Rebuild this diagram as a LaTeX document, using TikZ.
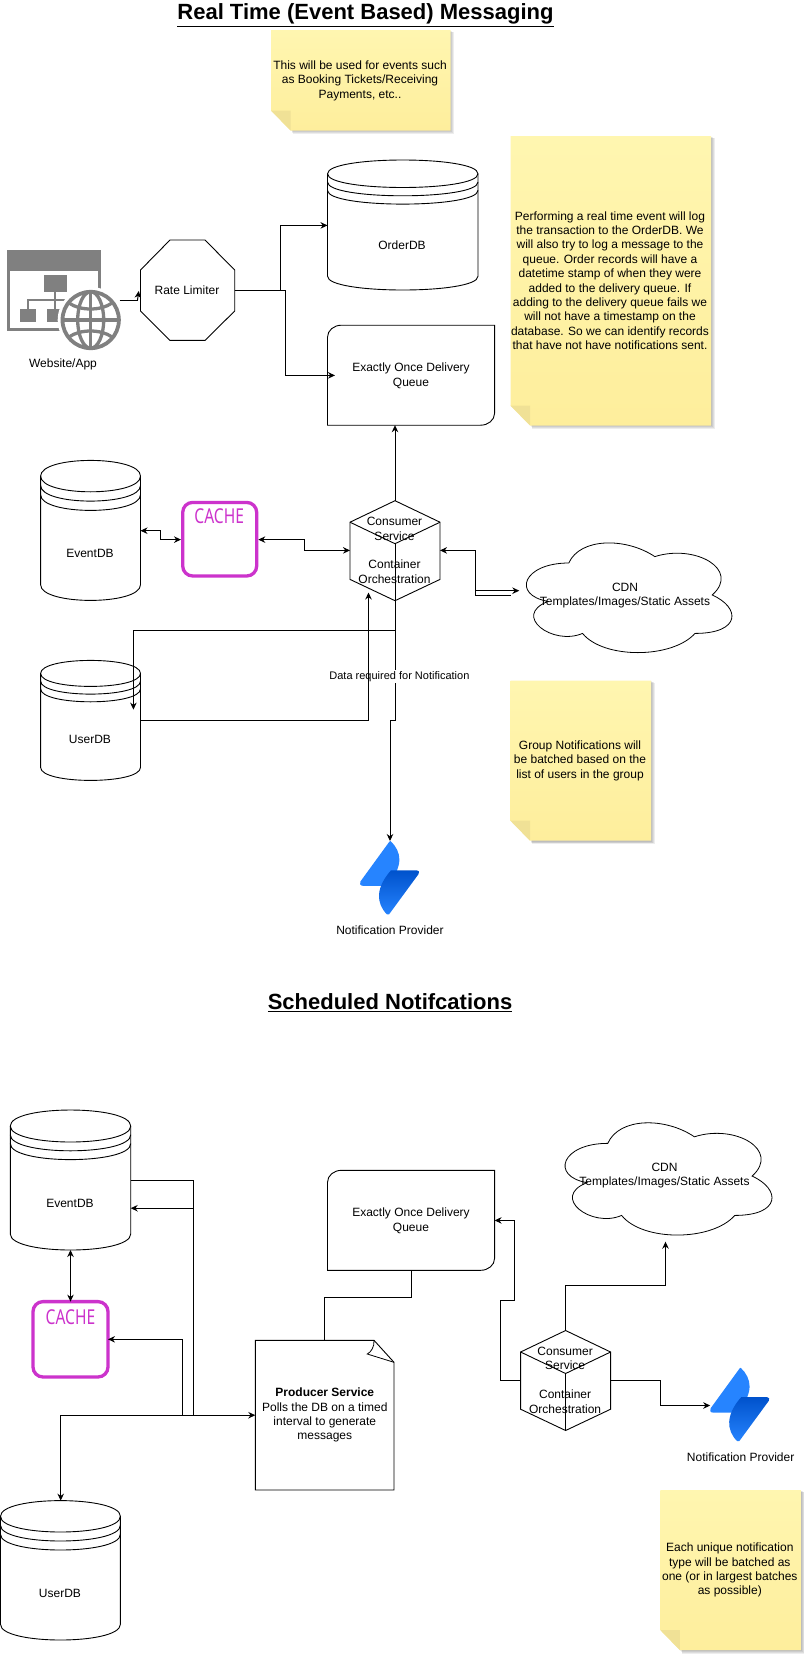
\documentclass[tikz,border=0pt]{standalone}
\usepackage{graphicx}
\usepackage{fontspec}
\setmainfont{Liberation Sans}
\newfontfamily\cachefont{Noto Sans}
\usetikzlibrary{arrows.meta,fit,calc}
\definecolor{magentaline}{HTML}{CC33CC}
\definecolor{notetop}{HTML}{FFF6B0}
\definecolor{notebot}{HTML}{FEEE9C}
\definecolor{notefold}{HTML}{F0E196}
\definecolor{icongrey}{HTML}{808080}
\definecolor{jiralight}{HTML}{2684FF}
\definecolor{jiradark}{HTML}{0052CC}
\tikzset{
  shp/.style={draw=black,line width=.9pt,line join=miter},
  conn/.style={draw=black,line width=1pt,-{Stealth[length=7pt,width=6.5pt]}},
  conn2/.style={draw=black,line width=1pt,{Stealth[length=7pt,width=6.5pt]}-{Stealth[length=7pt,width=6.5pt]}},
  wire/.style={draw=black,line width=1pt},
  txt/.style={font=\fontsize{12}{14.4}\selectfont,align=center,inner sep=0pt,text=black,yshift=-.6pt},
  titletxt/.style={font=\bfseries\fontsize{22}{24}\selectfont,inner sep=0pt,text=black},
  smalltxt/.style={font=\fontsize{11}{13}\selectfont,inner sep=1pt,fill=white,text=black,yshift=-.6pt},
  cachetxt/.style={font=\cachefont\fontsize{20.5}{24}\selectfont,text=magentaline,inner sep=0pt},
  box/.style={inner sep=0pt,outer sep=0pt},
}
% name x1 y1 x2 y2 d spacing
\newcommand{\dbshape}[7]{%
  \path[shp,fill=white] (#2,#3+#6) .. controls (#2,#3-#6/3) and (#4,#3-#6/3) .. (#4,#3+#6)
    -- (#4,#5-#6) .. controls (#4,#5+#6/3) and (#2,#5+#6/3) .. (#2,#5-#6) -- cycle;
  \path[shp] (#2,#3+#6) .. controls (#2,#3+#6*2.333) and (#4,#3+#6*2.333) .. (#4,#3+#6);
  \path[shp] (#2,#3+#6+#7) .. controls (#2,#3+#7+#6*2.333) and (#4,#3+#7+#6*2.333) .. (#4,#3+#6+#7);
  \path[shp] (#2,#3+#6+2*#7) .. controls (#2,#3+2*#7+#6*2.333) and (#4,#3+2*#7+#6*2.333) .. (#4,#3+#6+2*#7);
  \node[box,fit={(#2,#3)(#4,#5)}] (#1) {};
}
% name x1 y1 x2 y2
\newcommand{\notepaper}[5]{%
  \foreach \off in {1,2,3,4}{
    \fill[black,opacity=.07] (#2+19.5+\off*.6,#3+\off*.6) -- (#4+\off*.9,#3+\off*.6) -- (#4+\off*.9,#5+\off*.9) -- (#2+19.5+\off*.6,#5+\off*.9) -- cycle;}
  \path[top color=notetop,bottom color=notebot] (#2,#3) -- (#4,#3) -- (#4,#5) -- (#2+19.5,#5) -- (#2,#5-20) -- cycle;
  \fill[notefold] (#2,#5-20) -- (#2+19.5,#5-20) -- (#2+19.5,#5) -- cycle;
  \node[box,fit={(#2,#3)(#4,#5)}] (#1) {};
}
% name, y offset
\newcommand{\queueshape}[2]{%
  \begin{scope}[shift={(0,#2)}]
    \path[shp,fill=white] (341.5,0) -- (494.6,0) -- (494.6,88) .. controls (494.6,95) and (488,100) .. (480.6,100)
      -- (327.5,100) -- (327.5,12) .. controls (327.5,5) and (334,0) .. (341.5,0) -- cycle;
    \node[box,fit={(327.5,0)(494.6,100)}] (#1) {};
    \node[txt] (#1-t) at (411,50) {Exactly Once Delivery\\Queue};
  \end{scope}
}
% name, x (centre), y (top)
\newcommand{\hexshape}[3]{%
  \begin{scope}[shift={(#2,#3)}]
    \path[shp,fill=white] (0,0) -- (45,21.5) -- (45,78.7) -- (0,100) -- (-45,78.7) -- (-45,21.5) -- cycle;
    \path[shp] (-45,21.5) -- (0,43) -- (45,21.5);
    \path[shp] (0,43) -- (0,100);
    \node[box,fit={(-45,0)(45,100)}] (#1) {};
    \node[txt] (#1-a) at (-.5,27.5) {Consumer\\Service};
    \node[txt] (#1-b) at (-.5,70.5) {Container\\Orchestration};
  \end{scope}
}
% name x y w h
\newcommand{\cloudshape}[5]{%
  \begin{scope}[shift={(#2,#3)},x=#4pt,y=-#5pt]
    \path[shp,line width=.8pt,fill=white] (.25,.25) .. controls (.05,.25) and (0,.5) .. (.16,.55)
      .. controls (0,.66) and (.18,.9) .. (.31,.8)
      .. controls (.4,1) and (.7,1) .. (.8,.8)
      .. controls (1,.8) and (1,.6) .. (.875,.5)
      .. controls (1,.3) and (.8,.1) .. (.625,.2)
      .. controls (.5,.05) and (.3,.05) .. (.25,.25) -- cycle;
    \node[box,fit={(.05,.1)(.95,.92)}] (#1) {};
  \end{scope}
}
% name dx dy
\newcommand{\jiraicon}[3]{%
  \begin{scope}[shift={(#2,#3)}]
    \fill[jiralight] (390.5,841) .. controls (396,846) and (399.6,853) .. (399.4,860)
      .. controls (399.2,868) and (394,878) .. (388,885.8)
      -- (363,885.8) .. controls (360,885.8) and (359.3,883.5) .. (360.4,881.5) -- (389.5,841.5) .. controls (389.8,841) and (390.2,841) .. (390.5,841) -- cycle;
    \path[top color=jiradark,bottom color=jiralight] (417,870.4) .. controls (419,870.4) and (419.6,872) .. (418.6,874)
      -- (389,914.4) .. controls (388.4,915.2) and (387.8,915.2) .. (387,914.4)
      .. controls (381.5,909) and (378.6,902) .. (379,895)
      .. controls (379.4,886) and (385,877) .. (391,870.4) -- cycle;
    \node[box,fit={(360,841)(419,915)}] (#1) {};
  \end{scope}
}
\begin{document}
\begin{tikzpicture}[x=1pt,y=-1pt]
\useasboundingbox (0,0) rectangle (807,1657);
\fill[white] (0,0) rectangle (807,1657);

% ---------- titles
\node[titletxt] (title1) at (365.5,15) {\underline{Real Time (Event Based) Messaging}};
\node[titletxt] (title2) at (390,1003) {\underline{Scheduled Notifcations}};

% ---------- sticky notes
\notepaper{note1}{271}{30}{450.5}{130.5}
\node[txt] (note1-t) at (360,80) {This will be used for events such\\as Booking Tickets/Receiving\\Payments, etc..};
\notepaper{note2}{510.5}{136}{711}{425.5}
\node[txt] (note2-t) at (610,280) {Performing a real time event will log\\the transaction to the OrderDB. We\\will also try to log a message to the\\queue. Order records will have a\\datetime stamp of when they were\\added to the delivery queue. If\\adding to the delivery queue fails we\\will not have a timestamp on the\\database. So we can identify records\\that have not have notifications sent.};
\notepaper{note3}{510.5}{680.5}{651}{840.7}
\node[txt] (note3-t) at (580,760) {Group Notifications will\\be batched based on the\\list of users in the group};
\notepaper{note4}{660.3}{1490}{800.8}{1650}
\node[txt] (note4-t) at (729.8,1569.5) {Each unique notification\\type will be batched as\\one (or in largest batches\\as possible)};

% ---------- website icon
\begin{scope}
  \fill[icongrey] (7.3,250) rectangle (101,270.7);
  \draw[icongrey,line width=2.6pt] (8.6,262) -- (8.6,329.4) -- (80,329.4);
  \draw[icongrey,line width=2.6pt] (99.7,262) -- (99.7,300);
  \fill[icongrey] (44,275) rectangle (66.7,291.7);
  \fill[icongrey] (20,309) rectangle (36,321.7);
  \fill[icongrey] (46.7,309) rectangle (62,321.7);
  \draw[icongrey,line width=2pt] (55.3,291.7) -- (55.3,309);
  \draw[icongrey,line width=2pt] (28,309) -- (28,299.5) -- (72,299.5);
  \fill[white] (90.7,320) circle (33);
  \draw[icongrey,line width=3.8pt] (90.7,320) circle (28.2);
  \draw[icongrey,line width=3.3pt] (90.7,320) ellipse [x radius=13,y radius=28.2];
  \draw[icongrey,line width=3.3pt] (90.7,291.6) -- (90.7,348.4);
  \draw[icongrey,line width=3.3pt] (62.3,320) -- (119.1,320);
  \draw[icongrey,line width=3.3pt] (69,303) .. controls (80,311) and (101,311) .. (112,303);
  \draw[icongrey,line width=3.3pt] (69,337) .. controls (80,329) and (101,329) .. (112,337);
  \node[box,fit={(7.3,250)(119.5,349)}] (web) {};
\end{scope}
\node[txt] (web-t) at (63,363.6) {Website/App};

% ---------- rate limiter
\path[shp,fill=white] (170,240) -- (205,240) -- (234.7,270) -- (234.7,311) -- (205,340.4) -- (170,340.4) -- (140.5,311) -- (140.5,270) -- cycle;
\node[box,fit={(140.5,240)(234.7,340.4)}] (rate) {};
\node[txt] (rate-t) at (187,290) {Rate Limiter};

% ---------- top section shapes
\dbshape{orderdb}{327.5}{160}{478}{290}{13.75}{8.3}
\node[txt] (orderdb-t) at (402,244.6) {OrderDB};
\queueshape{queue1}{325.2}
\dbshape{eventdb1}{40.6}{460.4}{140.5}{600.4}{15.7}{9.3}
\node[txt] (eventdb1-t) at (90,552.5) {EventDB};
\path[draw=magentaline,line width=3.3pt,fill=white,rounded corners=10pt] (182.7,502.4) rectangle (256.7,576);
\node[box,fit={(181,500.7)(258.3,577.7)}] (cache1) {};
\node[cachetxt] (cache1-t) at (219.2,516.3) {\scalebox{.76}[1]{CACHE}};
\hexshape{hex1}{395}{500.7}
\cloudshape{cdn1}{511.4}{531}{229.5}{128}
\node[txt] (cdn1-t) at (625,594.7) {CDN\\Templates/Images/Static Assets};
\dbshape{userdb1}{40.6}{660.4}{140.5}{780.4}{13}{7.7}
\node[txt] (userdb1-t) at (90,738.6) {UserDB};
\jiraicon{jira1}{0}{0}
\node[txt] (jira1-t) at (390,929.6) {Notification Provider};

% ---------- top section connectors
\draw[wire] (web.east |- 0,300) -- (137.5,300);
\coordinate (ratein) at (138.8,291);
\draw[conn] (137.5,300) -- (ratein);
\draw[conn] (rate.east) -- (280.5,290.2) |- (orderdb.west |- 0,225.4);
\coordinate (qtip) at (335,375.4);
\draw[conn] (rate.east) -- (285.7,290.2) |- (qtip);
\draw[conn] (hex1.north) -- (hex1.north |- queue1.south);
\draw[conn2] (eventdb1.east |- 0,530.7) -| (160.5,539.6) -- (cache1.west |- 0,539.6);
\draw[conn2] (cache1.east |- 0,539.6) -| (304.7,550.4) -- (hex1.west |- 0,550.4);
\draw[wire,{Stealth[length=7pt,width=6.5pt]}-] (hex1.east |- 0,550.4) -| (475.3,595) -- (510.7,595);
\coordinate (cdntip) at (519.3,590.7);
\draw[conn] (475.3,590.7) -- (cdntip);
\coordinate (ubranch) at (133.4,709.6);
\draw[conn] (hex1.south) -- (395,630.4) -| (ubranch);
\draw[conn] (hex1.south) -- (395,720.4) -- (390,720.4) -- (jira1.north -| 390,0);
\node[smalltxt] (datalabel) at (399.4,676) {Data required for Notification};
\coordinate (hexin) at (368.5,592.5);
\draw[conn] (userdb1.east |- 0,720.4) -| (hexin);

% ---------- bottom section shapes
\dbshape{eventdb2}{10.3}{1110}{130.7}{1250}{16}{8.8}
\node[txt] (eventdb2-t) at (70,1202.8) {EventDB};
\path[draw=magentaline,line width=3.3pt,fill=white,rounded corners=10pt] (33,1301.6) rectangle (108,1377);
\node[box,fit={(33,1301.6)(108,1377)}] (cache2) {};
\node[cachetxt] (cache2-t) at (70.5,1317) {\scalebox{.76}[1]{CACHE}};
\dbshape{userdb2}{0.5}{1500.6}{120.4}{1640}{15.7}{9}
\node[txt] (userdb2-t) at (60,1592.4) {UserDB};
\queueshape{queue2}{1170.3}
\path[shp,fill=white] (255.3,1340.3) -- (374,1340.3) -- (394,1362.3) -- (394,1490) -- (255.3,1490) -- cycle;
\path[shp,line width=.8pt] (374,1340.3) .. controls (374.5,1347) and (371,1352) .. (367.3,1354) -- (394,1362.3);
\node[box,fit={(255.3,1340.3)(394,1490)}] (producer) {};
\node[txt] (producer-t) at (324.8,1414.6) {\textbf{Producer Service}\\Polls the DB on a timed\\interval to generate\\messages};
\hexshape{hex2}{565.6}{1330.5}
\cloudshape{cdn2}{550}{1110.6}{231}{131}
\node[txt] (cdn2-t) at (664.5,1174.7) {CDN\\Templates/Images/Static Assets};
\jiraicon{jira2}{350.2}{526.8}
\node[txt] (jira2-t) at (740.6,1456.6) {Notification Provider};

% ---------- bottom section connectors
\coordinate (busn) at (60.7,1415.2);
\draw[conn] (busn) -- (busn |- userdb2.north);
\draw[conn] (busn) -- (producer.west |- busn);
\draw[wire] (eventdb2.east |- 0,1180.6) -| (193,1415.2);
\draw[conn] (193,1415.2) |- (eventdb2.east |- 0,1208.2);
\draw[conn] (182.7,1415.2) |- (cache2.east |- 0,1339.3);
\draw[conn2] (cache2.north -| 70.5,0) -- (eventdb2.south -| 70.5,0);
\draw[wire] (producer.north -| 324.8,0) |- (411.7,1297.9) -- (411.7,1270.3);
\draw[conn] (hex2.west |- 0,1380.4) -| (500.3,1300.4) -| (514.7,1220.4) -- (queue2.east |- 0,1220.4);
\coordinate (cdn2tip) at (665.5,1241.7);
\draw[conn] (hex2.north) |- (665.5,1285.3) -- (cdn2tip);
\draw[conn] (hex2.east |- 0,1380.4) -| (660.4,1405.5) -- (jira2.west |- 0,1405.5);
\end{tikzpicture}
\end{document}
